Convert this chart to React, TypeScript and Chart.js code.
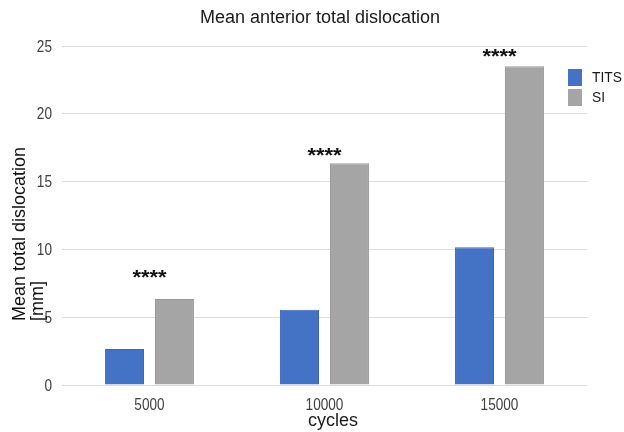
import React, { useEffect, useRef } from "react";
import { Chart, registerables } from "chart.js";

Chart.register(...registerables);

const categories = ["5000", "10000", "15000"];
const titsValues = [2.65, 5.55, 10.15];
const siValues = [6.35, 16.35, 23.5];
const sigLabels = ["****", "****", "****"];
const sigValues = [8.2, 17.2, 24.5];
const yTicks = [0, 5, 10, 15, 20, 25];

const FONT = "'Liberation Sans', Arial, sans-serif";

function narrowText(ctx: any, text: string, x: number, y: number, align: string, sx: number) {
  ctx.save();
  ctx.translate(x, y);
  ctx.scale(sx, 1);
  ctx.textAlign = align;
  ctx.fillText(text, 0, 0);
  ctx.restore();
}

const overlayPlugin = {
  id: "overlay",
  afterDraw(chart: any) {
    const ctx = chart.ctx;
    const x = chart.scales.x;
    const y = chart.scales.y;
    const area = chart.chartArea;
    ctx.save();
    // chart title
    ctx.fillStyle = "#1a1a1a";
    ctx.font = `18px ${FONT}`;
    ctx.textAlign = "center";
    ctx.textBaseline = "middle";
    ctx.fillText("Mean anterior total dislocation", 320, 18);
    // x-axis title
    ctx.fillText("cycles", 333, 421);
    // tick labels (narrow)
    ctx.fillStyle = "#404040";
    ctx.font = `17px ${FONT}`;
    ctx.textBaseline = "middle";
    y.ticks.forEach((t: any) => {
      narrowText(ctx, String(t.value), area.left - 10, y.getPixelForValue(t.value) + 1, "right", 0.8);
    });
    x.getLabels().forEach((lab: string, i: number) => {
      narrowText(ctx, lab, x.getPixelForValue(i), area.bottom + 20, "center", 0.8);
    });
    // significance stars
    ctx.fillStyle = "#111";
    ctx.font = `bold 20px ${FONT}`;
    ctx.textAlign = "center";
    ctx.textBaseline = "alphabetic";
    sigLabels.forEach((s, i) => {
      const m = ctx.measureText(s);
      const cy = y.getPixelForValue(sigValues[i]);
      const base = cy + (m.actualBoundingBoxAscent - m.actualBoundingBoxDescent) / 2;
      narrowText(ctx, s, x.getPixelForValue(i), base, "center", 1.1);
    });
    // legend
    const items = chart.data.datasets.map((d: any) => ({ label: d.label, bg: d.backgroundColor }));
    const lx = 568;
    let ly = 69;
    ctx.textBaseline = "middle";
    ctx.font = `15px ${FONT}`;
    items.forEach((it: any) => {
      ctx.fillStyle = it.bg;
      ctx.fillRect(lx, ly, 14, 17);
      ctx.fillStyle = "#1a1a1a";
      narrowText(ctx, it.label, lx + 24, ly + 9, "left", 0.92);
      ly += 20;
    });
    // y-axis title
    ctx.save();
    ctx.translate(20, 321);
    ctx.rotate(-Math.PI / 2);
    ctx.font = `18px ${FONT}`;
    ctx.fillStyle = "#111";
    ctx.textAlign = "left";
    ctx.textBaseline = "middle";
    ctx.fillText("Mean total dislocation", 0, 0);
    ctx.fillText("[mm]", 0, 18);
    ctx.restore();
    ctx.restore();
  },
};

export default function App() {
  const ref = useRef<HTMLCanvasElement>(null);
  useEffect(() => {
    if (!ref.current) return;
    const chart = new Chart(ref.current, {
      type: "bar",
      data: {
        labels: categories,
        datasets: [
          {
            label: "TITS",
            data: titsValues,
            backgroundColor: "#4472C4",
            borderColor: "#3d67b5",
            borderWidth: 1,
            barPercentage: 0.78,
            categoryPercentage: 0.571,
          },
          {
            label: "SI",
            data: siValues,
            backgroundColor: "#A5A5A5",
            borderColor: "#9a9a9a",
            borderWidth: 1,
            barPercentage: 0.78,
            categoryPercentage: 0.571,
          },
        ],
      },
      options: {
        animation: false,
        responsive: false,
        maintainAspectRatio: false,
        layout: { padding: { left: 0, right: 37, top: 46, bottom: 0 } },
        plugins: {
          legend: { display: false },
          tooltip: { enabled: false },
          title: { display: false },
        },
        scales: {
          x: {
            afterFit: (axis: any) => {
              axis.height = 47;
            },
            grid: { display: false, drawTicks: false },
            border: { display: false },
            ticks: { display: false },
          },
          y: {
            min: 0,
            max: 25,
            afterFit: (axis: any) => {
              axis.width = 62;
            },
            afterBuildTicks: (axis: any) => {
              axis.ticks = yTicks.map((v) => ({ value: v }));
            },
            grid: { color: "#dcdcdc", drawTicks: false, lineWidth: 1 },
            border: { display: false },
            ticks: { display: false },
          },
        },
      },
      plugins: [overlayPlugin],
    });
    return () => chart.destroy();
  }, []);
  return (
    <div style={{ position: "fixed", left: 0, top: 0 }}>
      <canvas ref={ref} width={624} height={432} style={{ display: "block" }} />
    </div>
  );
}
